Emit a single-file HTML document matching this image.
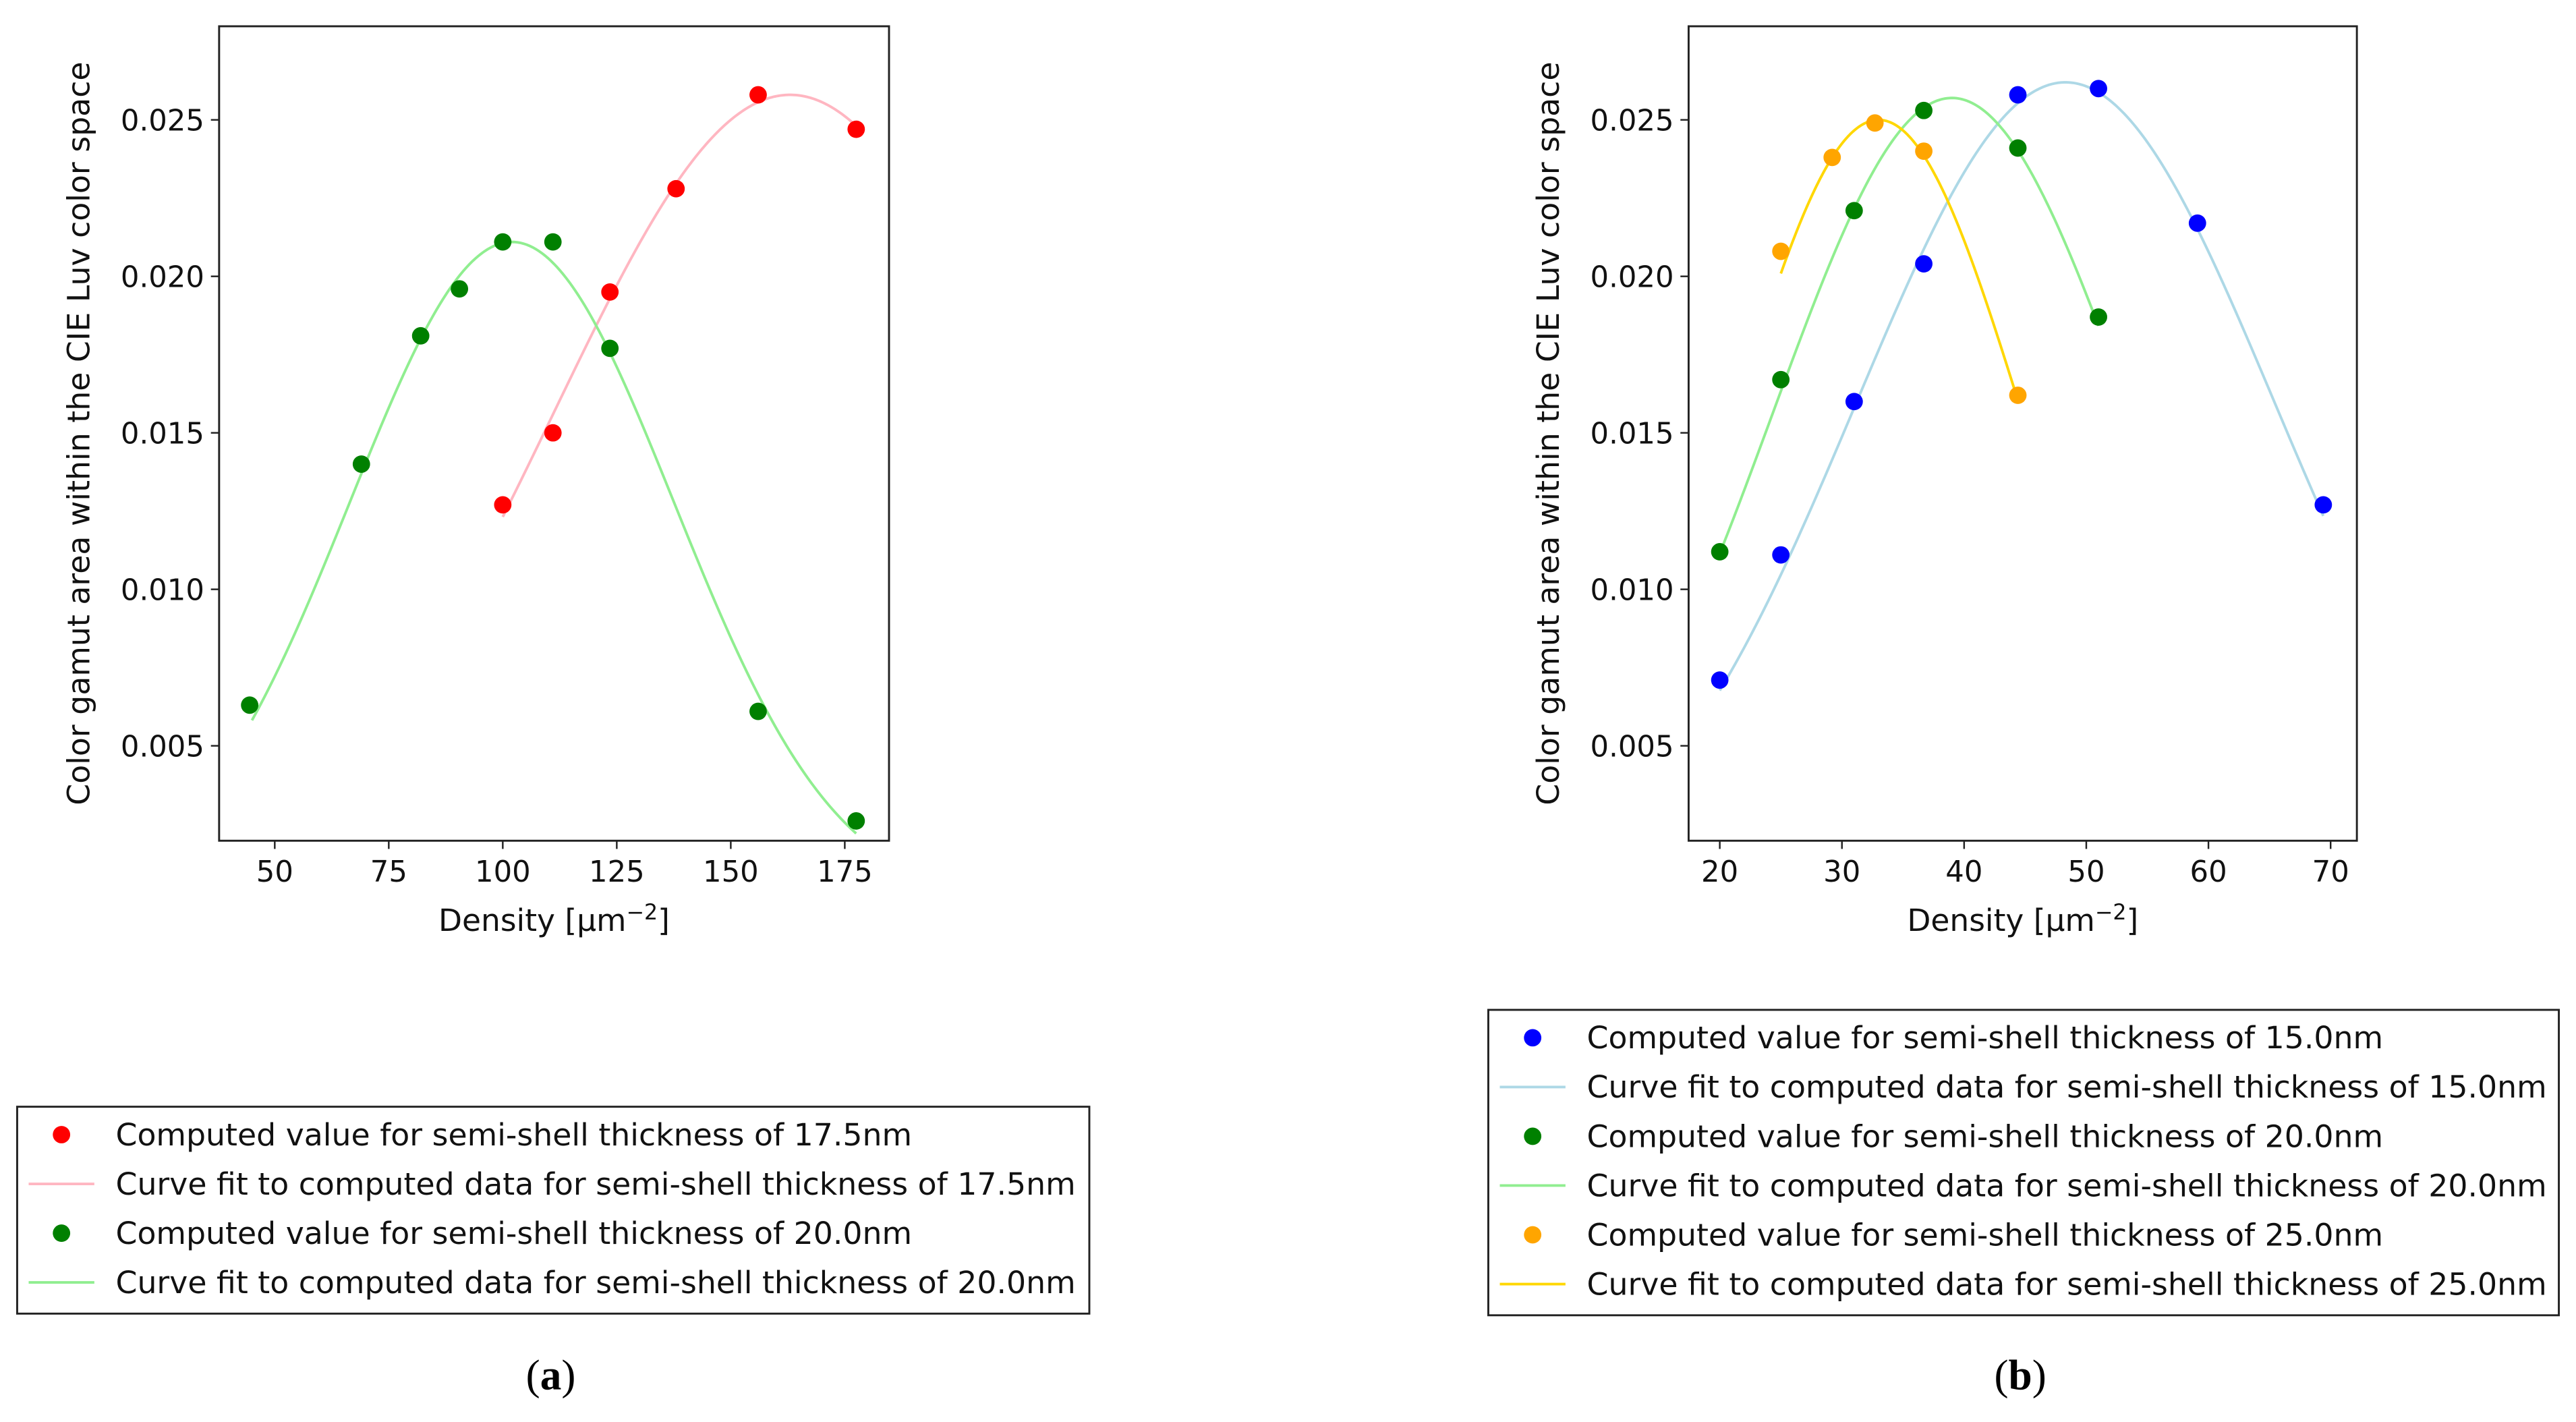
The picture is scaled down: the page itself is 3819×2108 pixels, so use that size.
<!DOCTYPE html>
<html><head><meta charset="utf-8"><style>
html,body{margin:0;padding:0;background:#fff;}
svg{display:block;font-family:"DejaVu Sans","Liberation Sans",sans-serif;}
</style></head><body>
<svg id="fig" width="3819" height="2108" viewBox="0 0 1568 866" xmlns="http://www.w3.org/2000/svg">
<rect width="1568" height="866" fill="#fff"/>
<g id="pa"></g>
<g id="pb"></g>
<text x="335" y="846" font-family="Liberation Serif,serif" font-size="26" text-anchor="middle">(<tspan font-weight="bold">a</tspan>)</text>
<text x="1230" y="846" font-family="Liberation Serif,serif" font-size="26" text-anchor="middle">(<tspan font-weight="bold">b</tspan>)</text>
</svg>
<script>
// ---- data panel a ----
const aXTicks = [50, 75, 100, 125, 150, 175];
const yTicks = [0.005, 0.010, 0.015, 0.020, 0.025];
const yTickLabels = ["0.005", "0.010", "0.015", "0.020", "0.025"];
const aRedX = [100, 111, 123.5, 138, 156, 177.5];
const aRedY = [0.0127, 0.0150, 0.0195, 0.0228, 0.0258, 0.0247];
const aGreenX = [44.5, 69, 82, 90.5, 100, 111, 123.5, 156, 177.5];
const aGreenY = [0.0063, 0.0140, 0.0181, 0.0196, 0.0211, 0.0211, 0.0177, 0.0061, 0.0026];
// gaussian fit params [amplitude, center, sigma, xmin, xmax]
const aRedFit = [0.0258, 163, 51.8, 100, 177.5];
const aGreenFit = [0.0211, 102, 35.5, 45, 177.5];
// ---- data panel b ----
const bXTicks = [20, 30, 40, 50, 60, 70];
const bBlueX = [20, 25, 31, 36.7, 44.4, 51, 59.1, 69.4];
const bBlueY = [0.0071, 0.0111, 0.0160, 0.0204, 0.0258, 0.0260, 0.0217, 0.0127];
const bGreenX = [20, 25, 31, 36.7, 44.4, 51];
const bGreenY = [0.0112, 0.0167, 0.0221, 0.0253, 0.0241, 0.0187];
const bOrangeX = [25, 29.2, 32.7, 36.7, 44.4];
const bOrangeY = [0.0208, 0.0238, 0.0249, 0.0240, 0.0162];
const bBlueFit = [0.0262, 48.3, 17.2, 20, 69.4];
const bGreenFit = [0.0257, 39, 14.7, 20, 51];
const bOrangeFit = [0.0250, 33, 12.1, 25, 44.4];

const NS = "http://www.w3.org/2000/svg";
function mk(parent, tag, attrs, text) {
  const e = document.createElementNS(NS, tag);
  for (const k in attrs) e.setAttribute(k, attrs[k]);
  if (text !== undefined) e.textContent = text;
  parent.appendChild(e);
  return e;
}
function panel(g, box, xmin, xmax, ymin, ymax, xticks, series, legend) {
  const [L, T, R, B] = box;
  const sx = v => L + (v - xmin) / (xmax - xmin) * (R - L);
  const sy = v => B - (v - ymin) / (ymax - ymin) * (B - T);
  series.forEach(s => {
    const [A, c, sg, x0, x1] = s.fit;
    let d = "";
    for (let i = 0; i <= 200; i++) {
      const x = x0 + (x1 - x0) * i / 200;
      const y = A * Math.exp(-((x - c) ** 2) / (2 * sg * sg));
      d += (i ? "L" : "M") + sx(x).toFixed(2) + " " + sy(y).toFixed(2);
    }
    const p = mk(g, "path", {d: d, fill: "none", stroke: s.lc, "stroke-width": 1.6});
    
    
  });
  series.forEach(s => {
    s.x.forEach((x, i) => {
      const c = mk(g, "circle", {cx: sx(x), cy: sy(s.y[i]), r: 5.3, fill: s.mc});
      
      
    });
  });
  const fr = mk(g, "rect", {x: L, y: T, width: R - L, height: B - T, fill: "none", stroke: "#222", "stroke-width": 1.2});
  
  
  xticks.forEach(v => {
    mk(g, "line", {x1: sx(v), x2: sx(v), y1: B, y2: B + 5, stroke: "#222", "stroke-width": 1});
    const t = mk(g, "text", {x: sx(v), y: B + 25, "font-size": 17.8, "text-anchor": "middle", fill: "#111"}, String(v));
    
    
  });
  yTicks.forEach((v, i) => {
    mk(g, "line", {x1: L - 5, x2: L, y1: sy(v), y2: sy(v), stroke: "#222", "stroke-width": 1});
    const t = mk(g, "text", {x: L - 9, y: sy(v) + 6.5, "font-size": 17.8, "text-anchor": "end", fill: "#111"}, yTickLabels[i]);
    
    
  });
  const xl = mk(g, "text", {x: (L + R) / 2, y: B + 55, "font-size": 18.7, "text-anchor": "middle", fill: "#111"});
  xl.innerHTML = 'Density [μm<tspan dy="-7" font-size="13">−2</tspan><tspan dy="7">]</tspan>';
  
  
  const cx = L - 79, cy = (T + B) / 2;
  const yl = mk(g, "text", {x: cx, y: cy, "font-size": 18.8, "text-anchor": "middle", fill: "#111", transform: `rotate(-90 ${cx} ${cy})`}, "Color gamut area within the CIE Luv color space");
  
  
  const [lx, ly, lw, n] = legend;
  const lg = mk(g, "g", {});
  
  
  mk(lg, "rect", {x: lx, y: ly, width: lw, height: n * 30 + 6, fill: "#fff", stroke: "#222", "stroke-width": 1.2});
  let row = 0;
  series.forEach(s => {
    const y1 = ly + 17 + row * 30;
    mk(lg, "circle", {cx: lx + 27, cy: y1, r: 5.3, fill: s.mc});
    const t1 = mk(lg, "text", {x: lx + 60, y: y1 + 6.5, "font-size": 18.8, fill: "#111"}, "Computed value for semi-shell thickness of " + s.th + "nm");
    
    
    row++;
    const y2 = ly + 17 + row * 30;
    mk(lg, "line", {x1: lx + 7, x2: lx + 47, y1: y2, y2: y2, stroke: s.lc, "stroke-width": 1.6});
    const t2 = mk(lg, "text", {x: lx + 60, y: y2 + 6.5, "font-size": 18.8, fill: "#111"}, "Curve fit to computed data for semi-shell thickness of " + s.th + "nm");
    
    
    row++;
  });
}
const Y0 = 549.5, YS = 19060;
panel(document.getElementById("pa"), [133, 16, 541, 512], 37.8, 184.7, (Y0 - 512) / YS, (Y0 - 16) / YS, aXTicks,
  [{name: "red-17-5nm", x: aRedX, y: aRedY, fit: aRedFit, mc: "#ff0000", lc: "#ffb6c1", th: "17.5"},
   {name: "green-20nm", x: aGreenX, y: aGreenY, fit: aGreenFit, mc: "#008000", lc: "#90ee90", th: "20.0"}],
  [10, 674, 653, 4]);
panel(document.getElementById("pb"), [1028, 16, 1435, 512], 17.45, 72.15, (Y0 - 512) / YS, (Y0 - 16) / YS, bXTicks,
  [{name: "blue-15nm", x: bBlueX, y: bBlueY, fit: bBlueFit, mc: "#0000ff", lc: "#add8e6", th: "15.0"},
   {name: "green-20nm", x: bGreenX, y: bGreenY, fit: bGreenFit, mc: "#008000", lc: "#90ee90", th: "20.0"},
   {name: "orange-25nm", x: bOrangeX, y: bOrangeY, fit: bOrangeFit, mc: "#ffa500", lc: "#ffd700", th: "25.0"}],
  [906, 615, 652, 6]);
</script>
</body></html>
